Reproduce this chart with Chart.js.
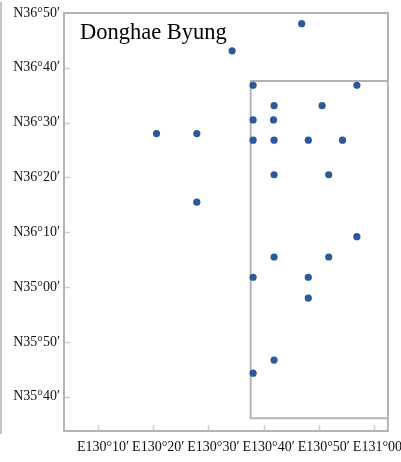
<!DOCTYPE html>
<html><head><meta charset="utf-8">
<script src="https://cdn.jsdelivr.net/npm/chart.js@4.4.1/dist/chart.umd.min.js"></script>
<style>html,body{margin:0;padding:0;background:#fff;overflow:hidden;} #wrap{width:401px;height:462px;position:relative;}</style>
</head><body><div id="wrap"><canvas id="c" width="401" height="462"></canvas></div>
<script>
const titleText = 'Donghae Byung';
// station positions: minutes east of 130°E and minutes north of 35°N
const stationLon = [46.9,34.3,38.1,56.9,41.9,50.6,38.1,41.8,38.1,41.9,48.1,54.3,20.6,27.9,27.9,41.9,51.8,56.9,41.9,51.8,38.1,48.1,48.1,41.9,38.1];
const stationLat = [108.05,103.1,96.8,96.8,93.1,93.1,90.5,90.5,86.8,86.8,86.8,86.8,88.0,88.0,75.5,80.5,80.5,69.2,65.5,65.5,61.8,61.8,58.0,46.7,44.3];
// sub-region outline (minutes offsets)
const regionLon = [62.54, 37.66, 37.66, 62.54];
const regionLat = [97.6, 97.6, 36.1, 36.1];
const xTickValues = [10,20,30,40,50,60];
const xTickLabels = ['E130°10′','E130°20′','E130°30′','E130°40′','E130°50′','E131°00′'];
const yTickValues = [40,50,60,70,80,90,100,110];
const yTickLabels = ['N35°40′','N35°50′','N35°00′','N36°10′','N36°20′','N36°30′','N36°40′','N36°50′'];

const lineGray = '#b4b4b4';
const tickGray = '#cfcfcf';

const framePlugin = {
  id: 'frame',
  beforeDatasetsDraw(chart) {
    const ctx = chart.ctx, a = chart.chartArea;
    const xs = chart.scales.x, ys = chart.scales.y;
    ctx.save();
    // page edge line
    ctx.strokeStyle = '#c4c4c4';
    ctx.lineWidth = 2;
    ctx.beginPath(); ctx.moveTo(1, 2); ctx.lineTo(1, 434); ctx.stroke();
    // inner ticks
    ctx.strokeStyle = tickGray;
    ctx.lineWidth = 1.5;
    yTickValues.forEach(v => {
      const py = Math.round(ys.getPixelForValue(v)) + 0.5;
      ctx.beginPath(); ctx.moveTo(a.left, py); ctx.lineTo(a.left + 6, py); ctx.stroke();
    });
    xTickValues.forEach(v => {
      const px = Math.round(xs.getPixelForValue(v)) + 0.5;
      ctx.beginPath(); ctx.moveTo(px, a.bottom); ctx.lineTo(px, a.bottom - 6); ctx.stroke();
    });
    // frame
    ctx.strokeStyle = lineGray;
    ctx.lineWidth = 2;
    ctx.strokeRect(a.left, a.top, a.right - a.left, a.bottom - a.top);
    ctx.restore();
  },
  afterDatasetsDraw(chart) {
    const ctx = chart.ctx;
    ctx.save();
    ctx.fillStyle = '#000';
    ctx.font = '22.5px "Liberation Serif", "Times New Roman", serif';
    ctx.textBaseline = 'alphabetic';
    ctx.textAlign = 'left';
    ctx.fillText(titleText, 80, 38.5);
    ctx.restore();
  }
};

const tickFont = { family: '"Liberation Serif", "Times New Roman", serif', size: 14 };

new Chart(document.getElementById('c'), {
  type: 'scatter',
  data: {
    datasets: [
      {
        data: stationLon.map((x, i) => ({ x, y: stationLat[i] })),
        backgroundColor: '#2c5a98',
        borderWidth: 0,
        pointRadius: 3.6,
        order: 1
      },
      {
        data: regionLon.map((x, i) => ({ x, y: regionLat[i] })),
        showLine: true,
        borderColor: lineGray,
        borderWidth: 2,
        pointRadius: 0,
        fill: false,
        order: 2
      }
    ]
  },
  plugins: [framePlugin],
  options: {
    responsive: false,
    animation: false,
    layout: { padding: { top: 13, right: 13, left: 0, bottom: 0 } },
    plugins: { legend: { display: false }, tooltip: { enabled: false } },
    scales: {
      x: {
        type: 'linear', min: 3.84, max: 62.54,
        grid: { display: false, drawTicks: false },
        border: { display: false },
        afterBuildTicks: s => { s.ticks = xTickValues.map(v => ({ value: v })); },
        afterFit: s => { s.height = 31; s.paddingLeft = 0; s.paddingRight = 0; },
        ticks: {
          autoSkip: false, maxRotation: 0, minRotation: 0,
          padding: 8, labelOffset: 5,
          color: '#111', font: tickFont,
          callback: v => xTickLabels[xTickValues.indexOf(v)]
        }
      },
      y: {
        type: 'linear', min: 33.76, max: 110,
        grid: { display: false, drawTicks: false },
        border: { display: false },
        afterBuildTicks: s => { s.ticks = yTickValues.map(v => ({ value: v })); },
        afterFit: s => { s.width = 64; s.paddingTop = 0; s.paddingBottom = 0; },
        ticks: {
          autoSkip: false, padding: 4,
          color: '#111', font: tickFont,
          callback: v => yTickLabels[yTickValues.indexOf(v)]
        }
      }
    }
  }
});
</script>
</body></html>
